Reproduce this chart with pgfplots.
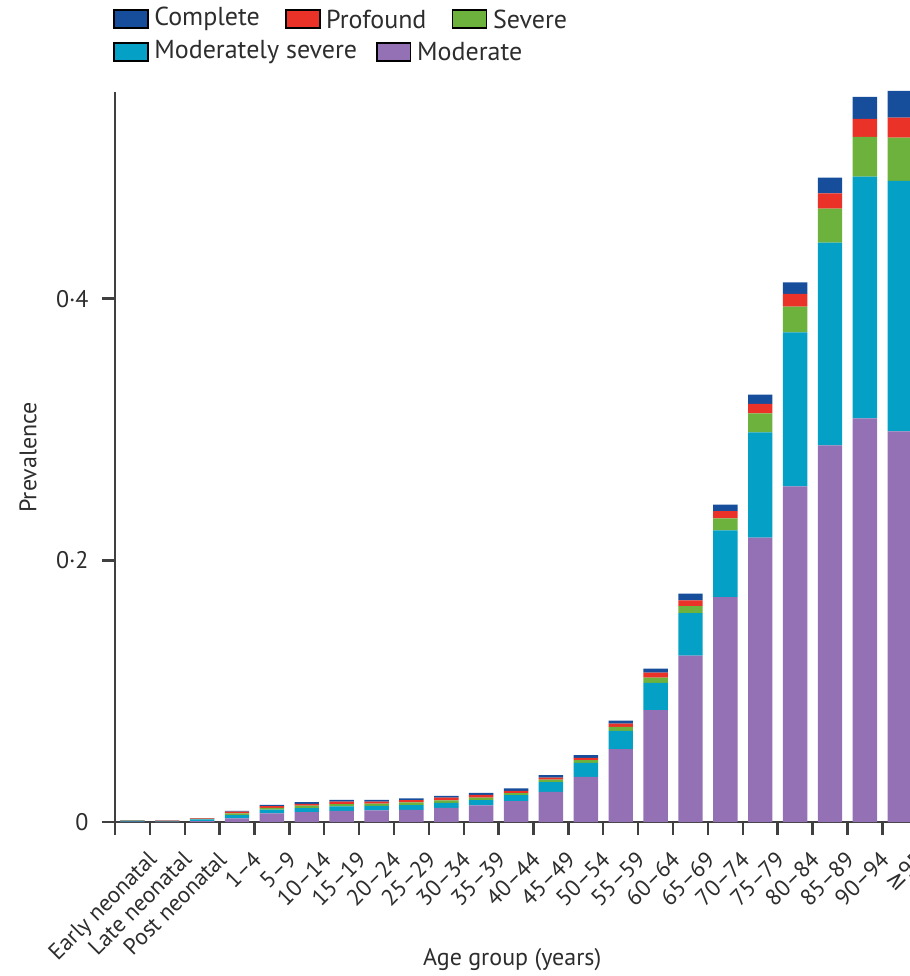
\documentclass[border=0pt]{standalone}
\usepackage{pgfplots}
\pgfplotsset{compat=1.18}
\usepackage{pgfplotstable}
\usepackage{fontspec}
\setmainfont{PT Sans}
\newfontfamily\symfont{DejaVu Sans}
\definecolor{cComplete}{RGB}{22,78,156}
\definecolor{cProfound}{RGB}{234,50,40}
\definecolor{cSevere}{RGB}{110,178,62}
\definecolor{cModSev}{RGB}{4,160,198}
\definecolor{cModerate}{RGB}{148,112,180}
\definecolor{axisgray}{RGB}{64,64,64}
\definecolor{textgray}{RGB}{45,45,45}

\pgfplotstableread{
idx mod msev sev prof comp
0 0.0004 0.0006 0.0002 0.0001 0.0002
1 0.0003 0.0003 0.0003 0.0002 0.0002
2 0.0008 0.0012 0.0005 0.0003 0.0002
3 0.0028 0.0025 0.0013 0.0013 0.0007
4 0.0066 0.0030 0.0013 0.0013 0.0010
5 0.0076 0.0031 0.0018 0.0015 0.0013
6 0.0085 0.0035 0.0018 0.0018 0.0013
7 0.0089 0.0034 0.0018 0.0016 0.0013
8 0.0094 0.0036 0.0020 0.0018 0.0013
9 0.0108 0.0038 0.0020 0.0020 0.0015
10 0.0127 0.0040 0.0020 0.0020 0.0017
11 0.0160 0.0046 0.0015 0.0017 0.0019
12 0.0230 0.0076 0.0018 0.0016 0.0019
13 0.0345 0.0107 0.0021 0.0017 0.0021
14 0.0557 0.0140 0.0030 0.0025 0.0023
15 0.0855 0.0208 0.0041 0.0039 0.0030
16 0.1273 0.0324 0.0054 0.0044 0.0051
17 0.1720 0.0509 0.0092 0.0055 0.0051
18 0.2173 0.0806 0.0145 0.0072 0.0071
19 0.2566 0.1177 0.0196 0.0097 0.0089
20 0.2878 0.1551 0.0260 0.0115 0.0122
21 0.3086 0.1846 0.0305 0.0138 0.0168
22 0.2985 0.1916 0.0330 0.0153 0.0204
}\datatable

\newcommand{\legitem}[4]{%
  \draw[fill=#3, draw=black, line width=0.7pt] (#1,#2-4.5pt) rectangle ++(17pt,9pt);
  \node[anchor=west, inner sep=0pt, text=textgray, font=\fontsize{13}{15}\selectfont] at (#1+20pt,#2) {#4};
}

\begin{document}
\begin{tikzpicture}[font=\fontsize{12}{14}\selectfont]
\path[use as bounding box] (-57.5pt,-77pt) rectangle (397.5pt,411.25pt);
\begin{axis}[
  at={(0pt,0pt)}, anchor=south west,
  scale only axis, width=397.5pt, height=365pt,
  ybar stacked, bar width=0.7,
  xmin=-0.5, xmax=22.28, ymin=0, ymax=0.5576,
  clip=false,
  axis x line*=bottom, axis y line*=left,
  axis line style={line width=1.2pt, color=axisgray, -},
  tick align=outside,
  major tick length=6.5pt,
  tick style={line width=1.2pt, color=axisgray},
  xtick={-0.5,0.5,...,21.5},
  xticklabels={},
  xticklabel style={text=textgray, rotate=45, anchor=north east, inner sep=0pt, yshift=-10pt, xshift=0pt, font=\fontsize{11.5}{13}\selectfont},
  extra x ticks={0,1,...,22},
  extra x tick labels={Early neonatal, Late neonatal, Post neonatal, 1–4, 5–9, 10–14, 15–19, 20–24, 25–29, 30–34, 35–39, 40–44, 45–49, 50–54, 55–59, 60–64, 65–69, 70–74, 75–79, 80–84, 85–89, 90–94, {\symfont ≥}95},
  extra x tick style={tick style={draw=none}},
  ytick={0,0.2,0.4},
  yticklabels={0,0·2,0·4},
  yticklabel style={text=textgray, inner sep=0pt, xshift=-6.5pt},
  ylabel={Prevalence},
  xlabel={Age group (years)},
  ylabel style={at={(axis description cs:-0.1094,0.5)}, anchor=center, text=textgray},
  xlabel style={at={(axis description cs:0.5,-0.189)}, anchor=center, text=textgray},
]
\addplot[fill=cModerate, draw=none] table[x=idx,y=mod]{\datatable};
\addplot[fill=cModSev, draw=none] table[x=idx,y=msev]{\datatable};
\addplot[fill=cSevere, draw=none] table[x=idx,y=sev]{\datatable};
\addplot[fill=cProfound, draw=none] table[x=idx,y=prof]{\datatable};
\addplot[fill=cComplete, draw=none] table[x=idx,y=comp]{\datatable};
\end{axis}
\legitem{-0.5pt}{401.75pt}{cComplete}{Complete}
\legitem{85.5pt}{401.75pt}{cProfound}{Profound}
\legitem{169pt}{401.75pt}{cSevere}{Severe}
\legitem{-0.5pt}{385.25pt}{cModSev}{Moderately severe}
\legitem{131pt}{385.25pt}{cModerate}{Moderate}
\end{tikzpicture}
\end{document}
